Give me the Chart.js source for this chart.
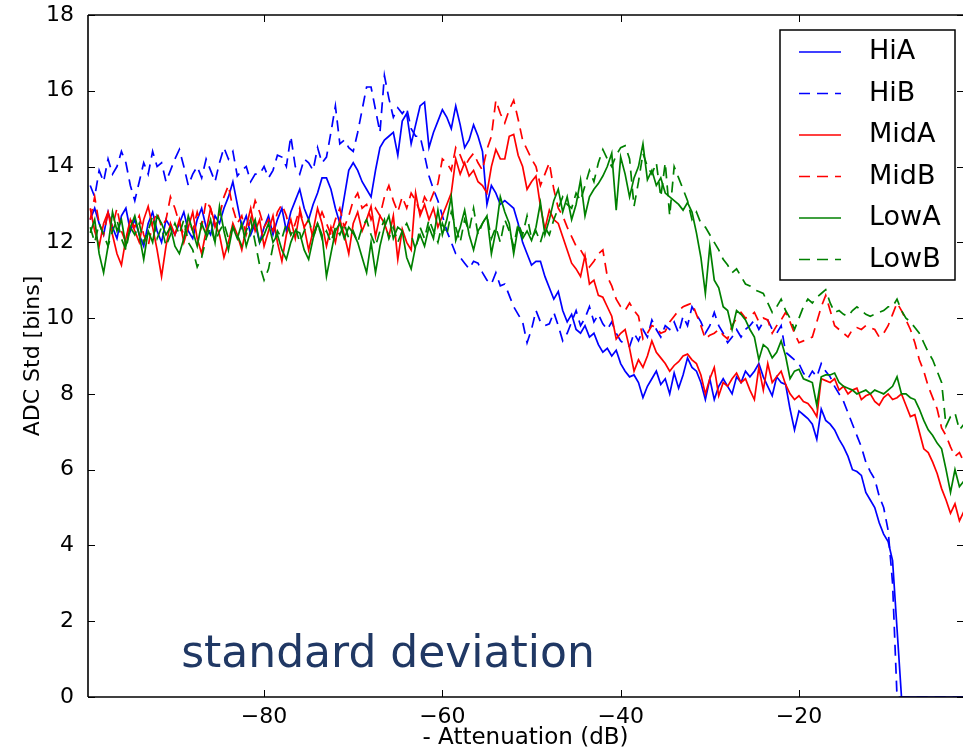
<!DOCTYPE html>
<html>
<head>
<meta charset="utf-8">
<script src="https://cdn.jsdelivr.net/npm/chart.js@4.4.1/dist/chart.umd.min.js"></script>
<style>
  html, body { margin: 0; padding: 0; background: #fff; overflow: hidden; }
  #wrap { width: 963px; height: 752px; }
</style>
</head>
<body>
<div id="wrap"><canvas id="myChart" width="963" height="752"></canvas></div>
<script>
// attenuation grid (dB), 0.5 dB steps
const atten = [
  -99.5,-99,-98.5,-98,-97.5,-97,-96.5,-96,-95.5,-95,-94.5,-94,-93.5,-93,-92.5,-92,-91.5,-91,-90.5,-90,
  -89.5,-89,-88.5,-88,-87.5,-87,-86.5,-86,-85.5,-85,-84.5,-84,-83.5,-83,-82.5,-82,-81.5,-81,-80.5,-80,
  -79.5,-79,-78.5,-78,-77.5,-77,-76.5,-76,-75.5,-75,-74.5,-74,-73.5,-73,-72.5,-72,-71.5,-71,-70.5,-70,
  -69.5,-69,-68.5,-68,-67.5,-67,-66.5,-66,-65.5,-65,-64.5,-64,-63.5,-63,-62.5,-62,-61.5,-61,-60.5,-60,
  -59.5,-59,-58.5,-58,-57.5,-57,-56.5,-56,-55.5,-55,-54.5,-54,-53.5,-53,-52.5,-52,-51.5,-51,-50.5,-50,
  -49.5,-49,-48.5,-48,-47.5,-47,-46.5,-46,-45.5,-45,-44.5,-44,-43.5,-43,-42.5,-42,-41.5,-41,-40.5,-40,
  -39.5,-39,-38.5,-38,-37.5,-37,-36.5,-36,-35.5,-35,-34.5,-34,-33.5,-33,-32.5,-32,-31.5,-31,-30.5,-30,
  -29.5,-29,-28.5,-28,-27.5,-27,-26.5,-26,-25.5,-25,-24.5,-24,-23.5,-23,-22.5,-22,-21.5,-21,-20.5,-20,
  -19.5,-19,-18.5,-18,-17.5,-17,-16.5,-16,-15.5,-15,-14.5,-14,-13.5,-13,-12.5,-12,-11.5,-11,-10.5,-10,
  -9.5,-9,-8.5,-8,-7.5,-7,-6.5,-6,-5.5,-5,-4.5,-4,-3.5,-3,-2.5,-2,-1.5
];

const hiA = [
  12.6,12.9,12.5,12.2,12.8,12.4,12.1,12.7,12.9,12.3,12.6,12.2,11.9,12.5,12.8,12.3,12.0,12.6,12.4,12.2,
  12.5,12.8,12.3,12.1,12.6,12.9,12.4,12.2,12.7,12.5,12.9,13.2,13.6,13.0,12.4,12.7,12.2,12.5,12.0,12.4,
  12.7,12.2,12.6,12.9,12.3,12.8,13.1,13.4,12.9,12.6,13.0,13.3,13.7,13.7,13.4,12.9,12.5,13.2,13.9,14.1,
  13.9,13.6,13.4,13.2,13.9,14.5,14.7,14.8,14.9,14.3,15.2,15.4,14.6,15.1,15.6,15.7,14.5,14.9,15.2,15.5,
  15.3,15.0,15.6,15.1,14.5,14.7,15.1,14.8,14.4,13.0,13.5,13.3,13.0,13.1,13.0,12.9,12.5,12.0,11.7,11.4,
  11.5,11.5,11.1,10.8,10.5,10.7,10.2,9.9,10.1,9.7,9.6,9.8,9.5,9.6,9.3,9.1,9.2,9.0,9.15,8.8,
  8.6,8.45,8.5,8.3,7.9,8.2,8.4,8.6,8.25,8.4,8.0,8.55,8.15,8.5,8.95,8.7,8.6,8.3,7.85,8.4,
  7.85,8.2,8.4,8.2,8.0,8.45,8.3,8.6,8.45,8.6,8.8,8.45,8.2,7.95,8.45,8.3,8.25,7.6,7.05,7.55,
  7.45,7.35,7.2,6.8,7.6,7.3,7.2,7.05,6.8,6.6,6.35,6.0,5.95,5.85,5.4,5.2,5.0,4.6,4.3,4.1,
  3.6,1.8,0,0,0,0,0,0,0,0,0,0,0,0,0,0,0
];
const hiB = [
  13.5,13.2,13.9,13.6,14.2,13.8,14.0,14.4,14.1,13.5,13.1,13.6,14.1,13.8,14.4,14.0,14.1,13.6,13.9,14.2,
  14.45,14.0,13.5,13.8,14.0,13.7,14.2,13.9,13.6,14.1,14.5,14.2,14.4,13.75,13.9,14.0,13.6,13.8,13.8,14.0,
  13.7,13.9,14.3,14.25,14.0,14.8,14.0,13.8,14.2,14.1,13.9,14.5,14.1,14.25,14.9,15.6,14.6,14.7,14.5,14.4,
  14.9,15.5,16.1,16.1,15.5,14.9,16.4,15.8,15.3,15.55,15.4,15.55,15.0,14.8,14.8,14.3,13.75,13.4,13.1,12.7,
  12.3,12.0,11.7,11.6,11.45,11.3,11.5,11.45,11.2,11.0,10.9,11.2,10.85,10.9,10.6,10.3,10.1,9.9,9.35,9.7,
  10.2,9.9,9.8,9.85,10.15,9.8,9.4,9.6,9.9,10.2,9.8,10.0,10.3,9.9,10.1,9.85,9.7,9.9,9.6,9.4,
  9.3,9.25,9.6,9.4,9.7,9.5,9.95,9.7,9.5,9.8,9.7,9.9,9.6,10.05,9.8,10.3,10.1,9.9,9.6,9.8,
  10.15,9.8,9.6,9.35,9.5,9.7,9.5,9.7,9.8,9.95,9.7,9.9,9.95,9.7,9.6,9.8,9.1,9.0,8.9,8.8,
  8.55,8.4,8.6,8.45,8.8,8.6,8.45,8.2,8.0,7.8,7.5,7.2,6.9,6.6,6.2,5.95,5.75,5.3,5.0,4.4,
  3.0,0,0,0,0,0,0,0,0,0,0,0,0,0,0,0,0
];
const midA = [
  12.9,12.3,11.9,12.5,12.8,12.2,11.7,11.4,12.1,12.6,12.3,12.0,12.6,12.95,12.4,11.8,11.1,11.9,12.5,12.2,
  12.6,12.0,12.4,12.8,12.1,11.7,12.3,12.9,12.5,12.2,11.6,12.0,12.5,12.2,11.8,12.4,12.9,12.3,12.6,11.9,
  12.3,12.7,12.0,11.5,12.2,12.6,12.1,12.8,12.4,11.8,12.3,12.9,12.5,11.9,12.4,12.0,12.6,12.2,11.7,12.5,
  12.8,12.3,12.6,12.95,12.15,12.7,12.5,12.15,12.7,11.55,12.35,12.0,11.8,13.3,12.7,13.0,12.6,12.9,12.4,12.7,
  13.0,13.3,14.2,13.8,14.1,13.75,13.9,13.6,13.5,13.3,14.0,14.45,14.2,14.2,14.8,14.85,14.3,14.0,13.4,13.6,
  13.75,12.95,12.35,12.85,12.6,12.5,12.15,11.8,11.45,11.3,11.1,11.65,10.9,11.0,10.6,10.55,10.3,10.05,9.45,9.6,
  9.7,9.2,8.6,8.9,8.7,9.0,9.4,9.1,8.95,8.8,8.6,8.75,8.85,9.0,9.05,8.9,8.8,8.5,8.0,8.4,
  8.7,7.95,8.3,8.2,8.4,8.55,8.3,8.4,8.1,7.85,8.7,8.1,8.8,8.3,8.45,8.6,8.25,8.0,7.85,7.95,
  7.8,7.75,7.6,7.4,8.4,8.35,8.3,8.4,8.1,8.2,8.0,8.1,8.15,7.85,7.95,8.0,7.8,7.7,7.9,8.0,
  7.85,7.9,8.0,7.7,7.4,7.45,7.0,6.55,6.45,6.2,5.9,5.5,5.2,4.85,5.1,4.65,4.9
];
const midB = [
  12.6,13.2,12.5,12.2,12.8,12.4,12.9,12.3,12.0,12.6,12.4,12.7,12.2,11.9,12.5,12.8,12.4,12.6,13.2,12.9,
  12.5,12.2,12.6,12.3,12.8,12.4,13.1,12.9,12.4,12.7,13.2,13.5,12.9,12.5,12.7,12.2,12.6,13.1,12.8,12.4,
  12.6,12.3,12.8,13.0,12.7,12.2,12.5,12.9,12.4,12.6,12.1,12.5,12.8,12.5,12.2,12.6,12.9,12.4,12.7,13.1,
  13.3,12.9,13.0,12.6,12.9,12.7,13.2,13.5,13.1,12.8,13.2,12.9,13.3,13.1,12.8,13.2,13.0,13.3,13.55,14.2,
  14.1,13.9,14.5,14.3,14.0,14.2,14.35,14.1,13.9,14.45,14.8,15.75,15.4,15.15,15.5,15.75,15.25,14.7,14.45,14.2,
  14.0,13.5,13.8,14.1,13.4,12.9,12.7,12.4,12.15,11.9,11.8,11.6,11.35,11.5,11.7,11.8,11.1,10.85,10.5,10.3,
  10.2,10.4,10.2,10.05,9.45,9.6,9.8,9.75,9.6,9.65,9.9,10.05,10.2,10.3,10.35,10.4,10.1,9.8,9.45,9.55,
  9.6,9.7,9.55,9.45,9.8,10.0,10.15,10.0,10.05,10.15,9.9,10.0,9.95,9.6,9.8,9.95,10.15,9.9,9.6,9.35,
  9.4,9.45,9.5,9.9,10.3,10.6,10.2,9.8,9.7,9.6,9.5,9.7,9.75,9.7,9.8,9.75,9.7,9.5,9.6,9.8,
  10.1,10.4,10.2,9.95,9.7,9.35,8.9,8.6,8.2,7.9,7.6,7.1,6.9,6.6,6.35,6.45,6.2
];
const lowA = [
  12.25,12.6,11.7,11.2,11.9,12.8,12.3,12.6,11.9,12.4,12.7,12.2,11.55,12.3,12.0,12.7,12.5,12.2,12.4,11.9,
  11.7,12.1,12.7,12.3,11.9,12.5,12.2,12.6,12.0,12.95,12.3,11.8,12.4,12.1,12.5,11.9,12.3,12.6,12.0,12.2,
  12.5,12.0,12.2,11.8,11.55,12.0,12.3,12.25,11.8,11.55,12.1,12.5,12.2,11.1,11.7,12.3,12.5,12.1,12.4,12.25,
  12.0,11.6,11.2,12.0,11.2,11.9,12.4,12.7,12.1,12.4,12.3,11.6,11.3,11.9,12.2,11.9,12.4,12.1,12.85,12.2,
  12.6,13.2,12.05,12.4,12.85,12.2,11.8,12.3,12.5,12.7,11.7,12.3,13.2,12.8,12.5,11.7,12.4,12.1,12.3,12.05,
  12.4,13.05,12.2,12.6,13.1,13.4,12.8,13.2,12.6,13.0,13.65,12.7,13.2,13.4,13.55,13.75,14.0,14.35,12.85,14.25,
  13.8,13.2,13.7,14.0,14.6,13.65,13.9,13.5,13.7,13.3,13.2,13.1,13.0,12.85,13.05,12.8,12.25,11.6,10.65,11.9,
  11.0,10.8,10.3,10.2,9.7,10.2,10.1,9.95,9.7,9.5,8.9,9.3,9.2,8.95,9.1,9.4,9.0,8.4,8.6,8.65,
  8.4,8.35,8.3,7.7,8.45,8.5,8.5,8.55,8.3,8.2,8.15,8.1,8.0,8.05,8.1,8.0,8.1,8.05,8.0,8.1,
  8.2,8.45,8.0,8.0,7.9,7.85,7.6,7.3,7.05,6.9,6.7,6.55,6.0,5.4,6.0,5.55,5.7
];
const lowB = [
  12.4,12.0,12.5,12.2,11.9,12.3,12.6,12.1,11.8,12.4,12.2,12.5,12.0,12.3,12.7,12.1,12.4,11.9,12.2,12.5,
  12.2,12.6,12.0,11.8,11.35,11.6,12.1,12.4,12.0,12.3,12.5,12.1,12.4,12.2,11.9,12.3,12.6,12.0,11.4,11.0,
  11.3,11.9,12.3,12.1,12.5,12.2,12.4,12.0,12.3,12.6,12.2,12.5,12.1,12.3,12.0,12.4,12.2,12.5,12.1,12.3,
  12.0,12.4,12.6,12.2,11.9,12.3,12.6,12.1,12.4,12.0,12.3,12.5,12.2,11.8,12.4,12.1,12.6,12.3,12.0,12.5,
  12.2,12.8,12.4,12.0,12.6,12.3,12.9,12.2,12.5,12.7,12.1,12.4,12.0,12.6,12.3,11.9,12.5,12.2,12.7,12.1,
  12.3,12.0,12.4,12.2,12.6,12.9,13.2,13.0,12.9,13.3,13.1,13.5,13.9,13.6,14.1,14.45,14.2,14.0,14.3,14.5,
  14.55,14.2,12.95,13.6,14.35,14.0,13.8,14.1,13.2,14.1,12.7,14.0,13.7,13.4,13.1,12.6,12.8,12.5,12.4,12.2,
  12.0,11.8,11.55,11.4,11.2,11.3,11.1,10.9,10.85,10.75,10.7,10.65,10.4,10.15,10.3,10.5,10.2,10.0,9.7,10.0,
  10.3,10.5,10.4,10.55,10.65,10.75,10.4,10.15,10.2,10.1,10.05,10.2,10.3,10.2,10.1,10.05,10.1,10.15,10.2,10.3,
  10.3,10.5,10.2,10.0,9.9,9.75,9.6,9.35,9.1,8.9,8.6,8.3,7.15,7.4,7.5,7.05,7.2
];

const seriesNames = ["HiA", "HiB", "MidA", "MidB", "LowA", "LowB"];
const seriesColors = ["#0000ff", "#0000ff", "#ff0000", "#ff0000", "#008000", "#008000"];
const seriesDashed = [false, true, false, true, false, true];

const xTicks = [-80, -60, -40, -20];
const yTicks = [0, 2, 4, 6, 8, 10, 12, 14, 16, 18];
const xLabel = "- Attenuation (dB)";
const yLabel = "ADC Std [bins]";
const note = "standard deviation";

Chart.defaults.font.family = "'DejaVu Sans', sans-serif";
Chart.defaults.color = "#000";

const fmt = (v) => (v < 0 ? "\u2212" + Math.abs(v) : String(v));

// frame with inward ticks, legend box and the note text
const framePlugin = {
  id: "frame",
  afterDatasetsDraw(chart) {
    const { ctx, chartArea: a, scales } = chart;
    const line = (x1, y1, x2, y2) => { ctx.beginPath(); ctx.moveTo(x1, y1); ctx.lineTo(x2, y2); ctx.stroke(); };
    ctx.save();
    ctx.strokeStyle = "#000";
    ctx.lineWidth = 1;
    xTicks.forEach((v) => {
      const px = Math.round(scales.x.getPixelForValue(v)) + 0.5;
      line(px, a.bottom, px, a.bottom - 7);
      line(px, a.top, px, a.top + 7);
    });
    yTicks.forEach((v) => {
      const py = Math.round(scales.y.getPixelForValue(v)) + 0.5;
      line(a.left, py, a.left + 7, py);
      line(a.right, py, a.right - 6, py);
    });
    ctx.lineWidth = 1.6;
    line(a.left, a.top, a.left, a.bottom);
    line(a.left, a.top, a.right + 2, a.top);
    line(a.left, a.bottom, a.right + 2, a.bottom);
    ctx.restore();
  },
  afterDraw(chart) {
    const { ctx, chartArea: a, scales } = chart;
    ctx.save();
    // legend
    const bw = 175, bh = 250;
    const bx = a.right - 8 - bw, by = a.top + 15;
    ctx.fillStyle = "#fff";
    ctx.fillRect(bx, by, bw, bh);
    ctx.strokeStyle = "#000";
    ctx.lineWidth = 1.5;
    ctx.strokeRect(bx, by, bw, bh);
    ctx.font = "27px 'DejaVu Sans', sans-serif";
    ctx.textBaseline = "middle";
    chart.data.datasets.forEach((ds, i) => {
      const cy = by + 22 + i * 41.5;
      ctx.strokeStyle = ds.borderColor;
      ctx.lineWidth = ds.borderWidth;
      ctx.setLineDash(ds.borderDash);
      ctx.beginPath();
      ctx.moveTo(bx + 19, cy);
      ctx.lineTo(bx + 61, cy);
      ctx.stroke();
      ctx.setLineDash([]);
      ctx.fillStyle = "#000";
      ctx.fillText(ds.label, bx + 89, cy);
    });
    // note
    ctx.font = "44px 'Comic Sans MS', 'DejaVu Sans', sans-serif";
    ctx.fillStyle = "#203864";
    ctx.textBaseline = "alphabetic";
    ctx.fillText(note, scales.x.getPixelForValue(-89.3), scales.y.getPixelForValue(0.8));
    ctx.restore();
  },
};

const datasets = [hiA, hiB, midA, midB, lowA, lowB].map((vals, i) => ({
  label: seriesNames[i],
  data: atten.map((x, k) => ({ x: x, y: vals[k] })),
  borderColor: seriesColors[i],
  borderWidth: 1.7,
  borderDash: seriesDashed[i] ? [11, 7] : [],
  pointRadius: 0,
  fill: false,
  tension: 0,
  order: 5 - i,
}));

new Chart(document.getElementById("myChart"), {
  type: "line",
  data: { datasets: datasets },
  options: {
    responsive: false,
    animation: false,
    devicePixelRatio: 1,
    layout: { padding: { top: 15, right: 0, bottom: 0, left: 0 } },
    plugins: { legend: { display: false }, tooltip: { enabled: false } },
    scales: {
      x: {
        type: "linear",
        min: -99.75,
        max: -1.6,
        grid: { display: false },
        border: { display: false },
        afterBuildTicks: (s) => { s.ticks = xTicks.map((v) => ({ value: v })); },
        afterFit: (s) => { s.height = 55; },
        ticks: { font: { size: 22, lineHeight: 1 }, padding: 1, maxRotation: 0, autoSkip: false, callback: fmt },
        title: { display: true, text: xLabel, font: { size: 23 }, padding: { top: 0, bottom: 0 } },
      },
      y: {
        type: "linear",
        min: 0,
        max: 18,
        grid: { display: false },
        border: { display: false },
        afterBuildTicks: (s) => { s.ticks = yTicks.map((v) => ({ value: v })); },
        afterFit: (s) => { s.width = 88; },
        ticks: { font: { size: 22, lineHeight: 0.8 }, padding: 6, autoSkip: false, callback: fmt },
        title: { display: true, text: yLabel, font: { size: 22 }, padding: { top: 20, bottom: 0 } },
      },
    },
  },
  plugins: [framePlugin],
});
</script>
</body>
</html>
